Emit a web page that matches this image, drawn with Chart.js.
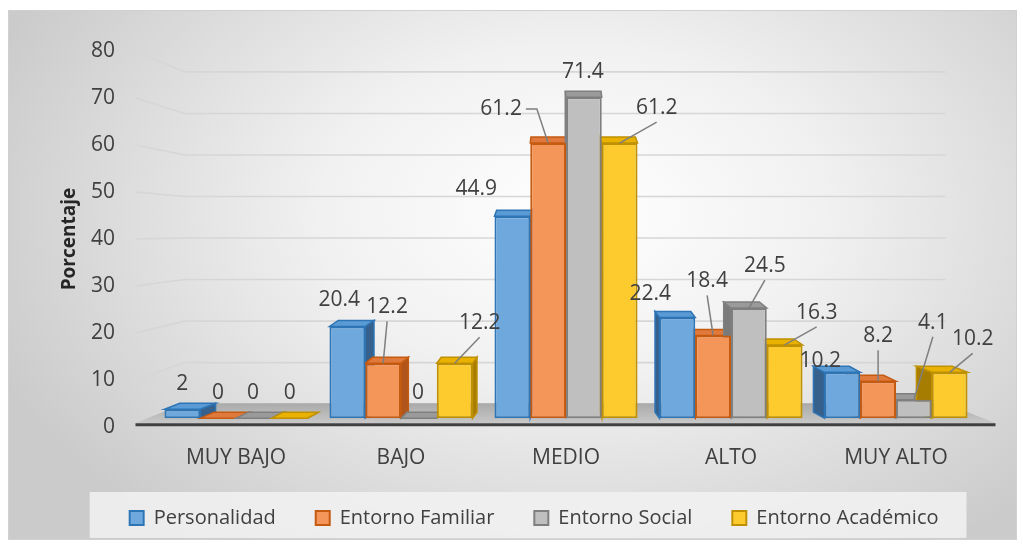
<!DOCTYPE html>
<html>
<head>
<meta charset="utf-8">
<script src="https://cdn.jsdelivr.net/npm/chart.js@4/dist/chart.umd.min.js"></script>
<style>
  html, body { margin: 0; padding: 0; background: #ffffff; }
  #marco {
    position: absolute; left: 8px; top: 10px; width: 1007px; height: 528px;
    border: 1px solid #d0d0d0;
    background: radial-gradient(ellipse 62% 78% at 56% 38%, #ffffff 0%, #f1f1f1 40%, #cbcbcb 100%);
  }
  #lienzo { position: absolute; left: 0; top: 0; }
</style>
</head>
<body>
<div id="marco"></div>
<canvas id="lienzo" width="1023" height="546"></canvas>
<script>
// Datos
const categorias = ['MUY BAJO', 'BAJO', 'MEDIO', 'ALTO', 'MUY ALTO'];
const personalidad = [2, 20.4, 44.9, 22.4, 10.2];
const entornoFamiliar = [0, 12.2, 61.2, 18.4, 8.2];
const entornoSocial = [0, 0, 71.4, 24.5, 4.1];
const entornoAcademico = [0, 12.2, 61.2, 16.3, 10.2];
const ticksY = [0, 10, 20, 30, 40, 50, 60, 70, 80];

const FUENTE = '"Open Sans", Lato, sans-serif';

// Colores: frente, borde, cara superior, cara lateral
const estilos = [
    { frente: '#6fa8dc', borde: '#2e75b6', arriba: '#5b9bd5', lado: '#35618c' },
    { frente: '#f4955a', borde: '#c55a11', arriba: '#e07a3c', lado: '#b0551c' },
    { frente: '#bfbfbf', borde: '#7f7f7f', arriba: '#9a9a9a', lado: '#7a7a7a' },
    { frente: '#fdcb2d', borde: '#bf9000', arriba: '#e9b200', lado: '#a67d00' }
];

// Desplazamiento de cada etiqueta respecto a la parte superior de su barra [dx, dy, guia]
const ajusteEtiquetas = [
    [[0, -25], [-8, -26], [-36, -27], [-27, -23], [-22, -11]],
    [[0, -25], [4, -56, 1], [-47, -34, 2], [-6, -54, 1], [0, -45, 1]],
    [[-1, -25], [-1, -25], [-1, -25], [16, -42, 1], [19, -77, 1]],
    [[0, -25], [25, -40, 1], [37, -35, 1], [32, -32, 1], [23, -33, 1]]
];

// Fondo 3D: pared con líneas guía, piso y línea base
const pluginFondo3D = {
    id: 'pluginFondo3D',
    beforeDatasetsDraw(chart) {
        const { ctx, scales: { x, y, yb } } = chart;
        const yF = yb.getPixelForValue(0);
        const fondo = v => yb.getPixelForValue(v * 0.924) - 14;
        ctx.save();

        // Líneas de cuadrícula (inclinadas hacia la pared del fondo)
        ctx.strokeStyle = '#d6d6d6';
        ctx.lineWidth = 1.6;
        ticksY.forEach(v => {
            ctx.beginPath();
            ctx.moveTo(x.left - 18, y.getPixelForValue(v));
            ctx.lineTo(x.left + 31, fondo(v));
            ctx.lineTo(x.right - 33, fondo(v));
            ctx.stroke();
        });

        // Piso
        const grad = ctx.createLinearGradient(0, yF - 15, 0, yF + 5);
        grad.addColorStop(0, '#a9a9a9');
        grad.addColorStop(1, '#c8c8c8');
        ctx.fillStyle = grad;
        ctx.beginPath();
        ctx.moveTo(x.left + 31, yF - 15);
        ctx.lineTo(x.right - 33, yF - 15);
        ctx.lineTo(x.right + 17, yF + 5);
        ctx.lineTo(x.left - 18, yF + 5);
        ctx.closePath();
        ctx.fill();

        // Línea base oscura
        ctx.strokeStyle = '#404040';
        ctx.lineWidth = 3;
        ctx.beginPath();
        ctx.moveTo(x.left - 18, yF + 6.5);
        ctx.lineTo(x.right + 17, yF + 6.5);
        ctx.stroke();

        // Caras superior y lateral de cada barra
        const centro = (x.left + x.right) / 2;
        chart.data.datasets.forEach((ds, i) => {
            const est = estilos[i];
            chart.getDatasetMeta(i).data.forEach(el => {
                const w = el.width / 2;
                const dx = (centro - el.x) * 0.04;
                const dy = 6;
                const borde = dx >= 0 ? el.x + w : el.x - w;
                ctx.lineWidth = 1.5;
                ctx.strokeStyle = est.borde;

                ctx.fillStyle = est.lado;
                ctx.beginPath();
                ctx.moveTo(borde, el.y);
                ctx.lineTo(borde + dx, el.y - dy);
                ctx.lineTo(borde + dx, el.base - dy);
                ctx.lineTo(borde, el.base);
                ctx.closePath();
                ctx.fill();
                ctx.stroke();

                ctx.fillStyle = est.arriba;
                ctx.beginPath();
                ctx.moveTo(el.x - w, el.y);
                ctx.lineTo(el.x + w, el.y);
                ctx.lineTo(el.x + w + dx, el.y - dy);
                ctx.lineTo(el.x - w + dx, el.y - dy);
                ctx.closePath();
                ctx.fill();
                ctx.stroke();
            });
        });
        ctx.restore();
    }
};

// Etiquetas de datos con líneas guía
const pluginEtiquetas = {
    id: 'pluginEtiquetas',
    afterDatasetsDraw(chart) {
        const { ctx } = chart;
        ctx.save();
        ctx.font = '21px ' + FUENTE;
        ctx.textAlign = 'center';
        ctx.textBaseline = 'middle';
        chart.data.datasets.forEach((ds, i) => {
            chart.getDatasetMeta(i).data.forEach((el, j) => {
                const [dx, dy, guia] = ajusteEtiquetas[i][j];
                const lx = el.x + dx;
                const ly = el.y + dy;
                const txt = String(ds.data[j]);
                ctx.strokeStyle = '#7f7f7f';
                ctx.lineWidth = 1.5;
                if (guia === 1) {
                    ctx.beginPath();
                    ctx.moveTo(lx, ly + 14);
                    ctx.lineTo(el.x, el.y);
                    ctx.stroke();
                } else if (guia === 2) {
                    const ancho = ctx.measureText(txt).width;
                    ctx.beginPath();
                    ctx.moveTo(lx + ancho / 2 + 4, ly);
                    ctx.lineTo(lx + ancho / 2 + 15, ly);
                    ctx.lineTo(el.x, el.y);
                    ctx.stroke();
                }
                ctx.fillStyle = '#404040';
                ctx.fillText(txt, lx, ly);
            });
        });
        ctx.restore();
    }
};

// Fondo de la leyenda
const pluginFondoLeyenda = {
    id: 'pluginFondoLeyenda',
    beforeDraw(chart) {
        const cajas = chart.legend && chart.legend.legendHitBoxes;
        if (!cajas || !cajas.length) return;
        const izq = Math.min(...cajas.map(c => c.left));
        const der = Math.max(...cajas.map(c => c.left + c.width));
        const arriba = cajas[0].top;
        const { ctx } = chart;
        ctx.save();
        ctx.fillStyle = 'rgba(242, 242, 242, 0.85)';
        ctx.fillRect(izq - 40, arriba - 16, der - izq + 68, 46);
        ctx.restore();
    }
};

const series = [personalidad, entornoFamiliar, entornoSocial, entornoAcademico];
const nombres = ['Personalidad', 'Entorno Familiar', 'Entorno Social', 'Entorno Académico'];

new Chart(document.getElementById('lienzo'), {
    type: 'bar',
    data: {
        labels: categorias,
        datasets: series.map((datos, i) => ({
            label: nombres[i],
            data: datos,
            backgroundColor: estilos[i].frente,
            borderColor: estilos[i].borde,
            borderWidth: 2,
            borderSkipped: false,
            xAxisID: 'x',
            yAxisID: 'yb',
            barPercentage: 1,
            categoryPercentage: 0.867
        }))
    },
    options: {
        responsive: false,
        animation: false,
        layout: { padding: { left: 10, top: 44, right: 44.5, bottom: 10 } },
        plugins: {
            legend: {
                position: 'bottom',
                align: 'end',
                maxHeight: 68,
                labels: {
                    boxWidth: 14,
                    boxHeight: 14,
                    padding: 40,
                    color: '#404040',
                    font: { size: 20, family: FUENTE }
                }
            },
            tooltip: { enabled: false }
        },
        scales: {
            x: {
                type: 'category',
                grid: { display: false, drawTicks: false },
                border: { display: false },
                ticks: { color: '#404040', padding: 18, font: { size: 21, family: FUENTE } },
                afterFit(s) { s.height = 41; }
            },
            y: {
                position: 'left',
                min: 0,
                max: 80,
                grid: { display: false, drawTicks: false },
                border: { display: false },
                ticks: { stepSize: 10, padding: 38.5, color: '#404040', font: { size: 21, family: FUENTE } },
                title: {
                    display: true,
                    text: 'Porcentaje',
                    color: '#262626',
                    font: { size: 19, weight: 'bold', family: FUENTE },
                    padding: { top: 48, bottom: 0 }
                },
                afterFit(s) { s.width = 143.5; }
            },
            yb: {
                display: false,
                min: -1.965,
                max: 81.66
            }
        }
    },
    plugins: [pluginFondoLeyenda, pluginFondo3D, pluginEtiquetas]
});
</script>
</body>
</html>
